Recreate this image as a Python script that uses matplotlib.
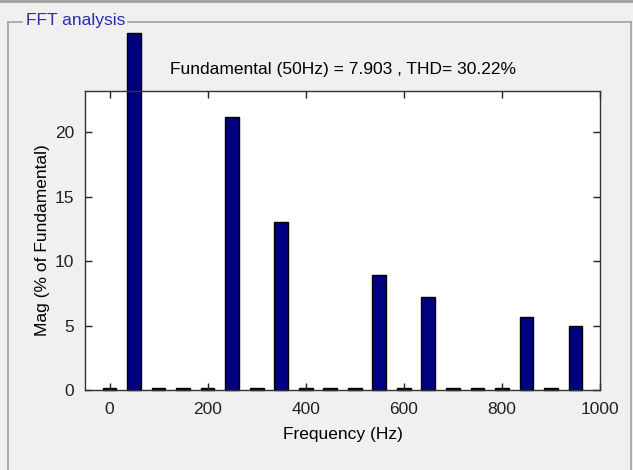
import matplotlib

matplotlib.use("Agg")
import matplotlib.pyplot as plt
from matplotlib.lines import Line2D

# harmonic spectrum (% of fundamental)
freqs = [0, 50, 100, 150, 200, 250, 300, 350, 400, 450, 500,
         550, 600, 650, 700, 750, 800, 850, 900, 950]
# the 50 Hz bar (100 %) runs past the axes; keep its visible height
mags = [0.15, 27.7, 0.15, 0.15, 0.15, 21.2, 0.15, 13.0, 0.15, 0.15, 0.15,
        8.9, 0.15, 7.25, 0.15, 0.15, 0.15, 5.7, 0.15, 5.0]
xticks = [0, 200, 400, 600, 800, 1000]
yticks = [0, 5, 10, 15, 20]
title = "Fundamental (50Hz) = 7.903 , THD= 30.22%"

BG = "#f0f0f0"
BAR = "#000080"
FRAME = "#a0a0a0"

plt.rcParams.update({
    "font.family": ["Liberation Sans", "DejaVu Sans"],
    "font.size": 12,
})

W, H = 633, 470
fig = plt.figure(figsize=(W / 100, H / 100), dpi=100, facecolor=BG)
ax = fig.add_axes([85 / W, 1 - 390 / H, (600 - 85) / W, (390 - 91) / H])
ax.set_facecolor("white")

bars = ax.bar(freqs, mags, width=28, color=BAR, edgecolor="black", linewidth=1.0)
for b in bars:
    b.set_clip_on(False)

ax.set_xlim(-50, 1000)
ax.set_ylim(0, 23.2)
ax.set_xticks(xticks)
ax.set_yticks(yticks)
ax.tick_params(direction="in", length=5, width=1, top=True, right=True,
               labelsize=12.5, colors="#222222")
ax.tick_params(axis="x", pad=9)
ax.tick_params(axis="y", pad=8)
for s in ax.spines.values():
    s.set_color("#333333")
    s.set_linewidth(1.0)

ax.set_xlabel("Frequency (Hz)", fontsize=12.5, labelpad=7)
ax.set_ylabel("Mag (% of Fundamental)", fontsize=12.5, labelpad=3)
ax.set_title(title, fontsize=12.5, pad=12)

# etched panel frame of the FFT analysis group box
def px_line(x0, y0, x1, y1, color=FRAME, lw=1.2):
    fig.add_artist(Line2D([x0 / W, x1 / W], [1 - y0 / H, 1 - y1 / H],
                          color=color, lw=lw, transform=fig.transFigure))

px_line(0, 1, W, 1, lw=2.0)
px_line(8, 22, 22, 22)
px_line(128, 22, 631, 22)
px_line(8, 22, 8, H)
px_line(631, 22, 631, H)
fig.text(26 / W, 1 - 20 / H, "FFT analysis", color="#2b2bb0", fontsize=12.5,
         va="center", ha="left")

fig.savefig("out.png", dpi=100, facecolor=BG)
